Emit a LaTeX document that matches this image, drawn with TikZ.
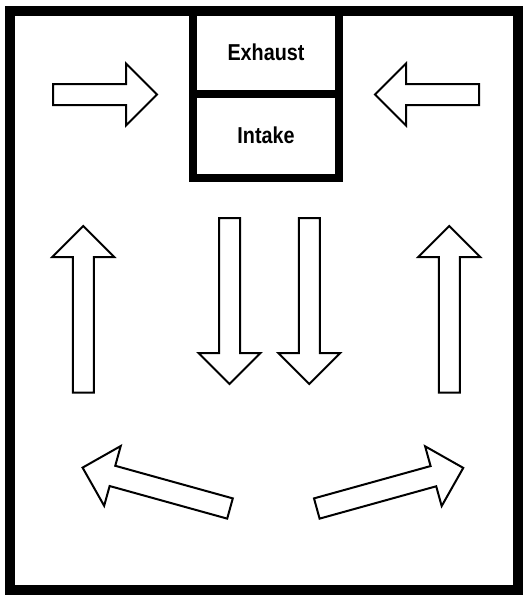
\documentclass[tikz,border=0pt]{standalone}
\usepackage{fontspec}
\newfontfamily\labelfont[FakeStretch=0.86]{Liberation Sans}
\usepackage{tikz}
\usetikzlibrary{positioning}

% hollow block arrow: start point, direction (degrees), length
\newcommand{\airarrow}[3]{%
  \draw[flowline, shift={#1}, rotate=#2]
    (0,-10.5) -- (#3-31,-10.5) -- (#3-31,-31) -- (#3,0)
    -- (#3-31,31) -- (#3-31,10.5) -- (0,10.5) -- cycle;}

\begin{document}
\begin{tikzpicture}[
    x=1pt, y=-1pt,
    wall/.style={draw=black, line width=10pt, line join=miter},
    duct/.style={rectangle, draw=black, line width=8pt, fill=white,
                 minimum width=146pt, minimum height=83.5pt,
                 inner sep=0pt, outer sep=0pt,
                 font=\labelfont\bfseries\fontsize{23}{26}\selectfont},
    flowline/.style={draw=black, line width=2pt, line join=miter, fill=white}
  ]
    \useasboundingbox (0,0) rectangle (523,595);
    % Room walls
    \draw[wall] (10,10.5) rectangle (517.5,589.5);
    % Exhaust / Intake unit
    \node[duct] (exhaust) at (266,52.25) {Exhaust};
    \node[duct, below=0pt of exhaust] (intake) {Intake};
    \draw[wall] (10,10.5) -- (517.5,10.5);
    % Top arrows towards the unit
    \airarrow{(53,94.5)}{0}{104}
    \airarrow{(479,94.5)}{180}{104}
    % Side arrows going up
    \airarrow{(83.3,392.7)}{90}{166.7}
    \airarrow{(449.3,392.7)}{90}{166.7}
    % Middle arrows going down
    \airarrow{(229.5,218)}{270}{166}
    \airarrow{(309.3,218)}{270}{166}
    % Bottom arrows spreading out
    \airarrow{(230,508.5)}{164.5}{153}
    \airarrow{(316.8,508.5)}{15.5}{152}
  \end{tikzpicture}
\end{document}
